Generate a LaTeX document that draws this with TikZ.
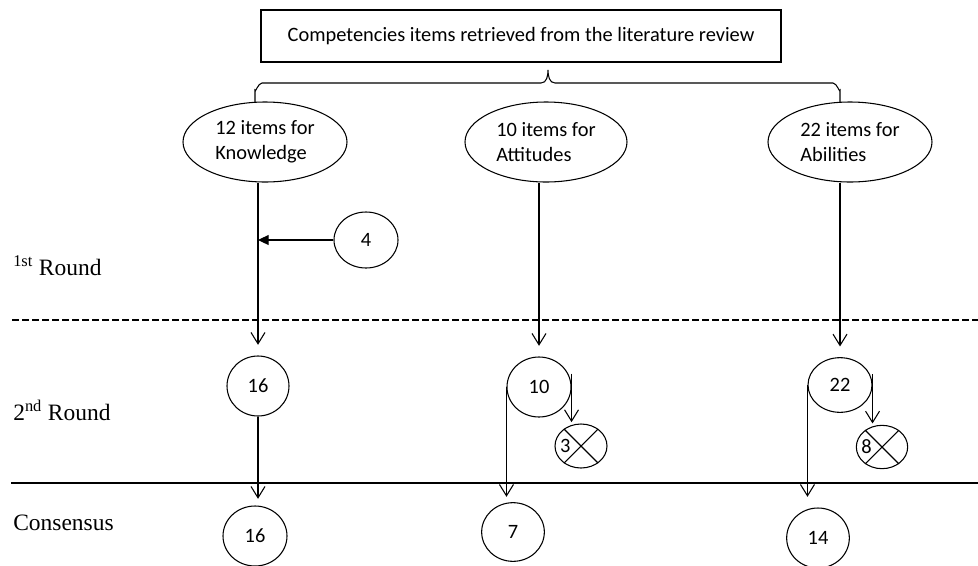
\documentclass[tikz,border=0pt]{standalone}
\usepackage{fontspec}
\setmainfont{Liberation Serif}
\newfontfamily\calfont{Carlito}
\usetikzlibrary{shapes.geometric,arrows.meta,calc}
\begin{document}
\begin{tikzpicture}[x=0.75pt,y=-0.75pt,
  every node/.style={font=\calfont\fontsize{15.3}{18.75}\selectfont},
  ell/.style={draw,ellipse,inner sep=0pt,line width=0.8pt},
  lbl/.style={anchor=base west,inner sep=0pt,font=\fontsize{17.6}{20}\selectfont},
  arr/.style={draw,line width=0.8pt,-{Straight Barb[length=8.5pt,width=10.5pt,line width=0.8pt]}},
  farr/.style={draw,line width=0.8pt,-{Triangle[length=8pt,width=7.5pt]}},
  ln/.style={line width=0.8pt}]
\useasboundingbox (0,0) rectangle (978,565);
% top box
\node[draw,line width=0.8pt,minimum width=390pt,minimum height=39pt,inner sep=0pt] (top) at (521,36) {Competencies items retrieved from the literature review};
% brace
\draw[ln] (255,102) -- (255,90) to[out=-90,in=180] (262,83) -- (541,83) to[out=0,in=-90] (548,70)
  to[out=-90,in=180] (555,83) -- (833,83) to[out=0,in=-90] (840,90) -- (840,102);
% ellipses
\node[ell,minimum width=123pt,minimum height=60pt,align=left] (k) at (265,142) {12 items for\\Knowledge};
\node[ell,minimum width=121.5pt,minimum height=60pt,align=left] (a) at (546,142) {10 items for\\Attitudes};
\node[ell,minimum width=123pt,minimum height=60pt,align=left] (b) at (850,142) {22 items for\\Abilities};
% row labels
\node[lbl] (r1) at (13,275) {\textsuperscript{1st} Round};
\node[lbl] (r2) at (13,420) {2\textsuperscript{nd} Round};
\node[lbl] (r3) at (13,530) {Consensus};
% separator lines
\draw[ln,dashed,dash pattern=on 5pt off 2.5pt] (12,320) coordinate (d1) -- (978,320) coordinate (d2);
\draw[line width=1.2pt] (11,483) coordinate (s1) -- (978,483) coordinate (s2);
% first/second round nodes
\node[ell,minimum width=48pt,minimum height=42pt] (c4) at (366,240) {4};
\node[ell,minimum width=46.5pt,minimum height=45pt] (c16) at (258,386) {16};
\node[ell,minimum width=48pt,minimum height=45pt] (c10) at (539,387) {10};
\node[ell,minimum width=48pt,minimum height=41pt] (c22) at (840,385) {22};
% crossed ellipses
\node[ell,minimum width=39pt,minimum height=33pt] (x3) at (581,446) {};
\node[ell,minimum width=38.5pt,minimum height=32.5pt] (x8) at (882,447) {};
\draw[ln] (x3.45) -- (x3.225) (x3.135) -- (x3.-45);
\draw[ln] (x8.45) -- (x8.225) (x8.135) -- (x8.-45);
\node[anchor=west,inner sep=0pt] (t3) at ([xshift=4pt]x3.west) {3};
\node[anchor=west,inner sep=0pt] (t8) at ([xshift=4pt]x8.west) {8};
% consensus nodes
\node[ell,minimum width=48pt,minimum height=45pt] (e16) at (255,536) {16};
\node[ell,minimum width=47pt,minimum height=44pt] (e7) at (513,532) {7};
\node[ell,minimum width=47pt,minimum height=45pt] (e14) at (818,538) {14};
% connectors
\draw[arr] (k.south -| c16.center) -- ([yshift=8pt]c16.north);
\draw[farr] (c4.west) -- (c4.west -| c16.center);
\draw[arr] (a.south -| c10.center) -- ([yshift=8pt]c10.north);
\draw[arr] (b.south -| c22.center) -- ([yshift=8pt]c22.north);
\draw[arr] (c16.south) -- ([yshift=5pt]c16.south |- e16.north);
\draw[arr] (c10.west) -- ([yshift=4pt]c10.west |- e7.north);
\draw[arr] ([yshift=10pt]c10.east) -- ([yshift=1pt]c10.east |- x3.north);
\draw[arr] (c22.west) -- ([yshift=8pt]c22.west |- e14.north);
\draw[arr] ([yshift=8pt]c22.east) -- ([yshift=1pt]c22.east |- x8.north);
\end{tikzpicture}
\end{document}
